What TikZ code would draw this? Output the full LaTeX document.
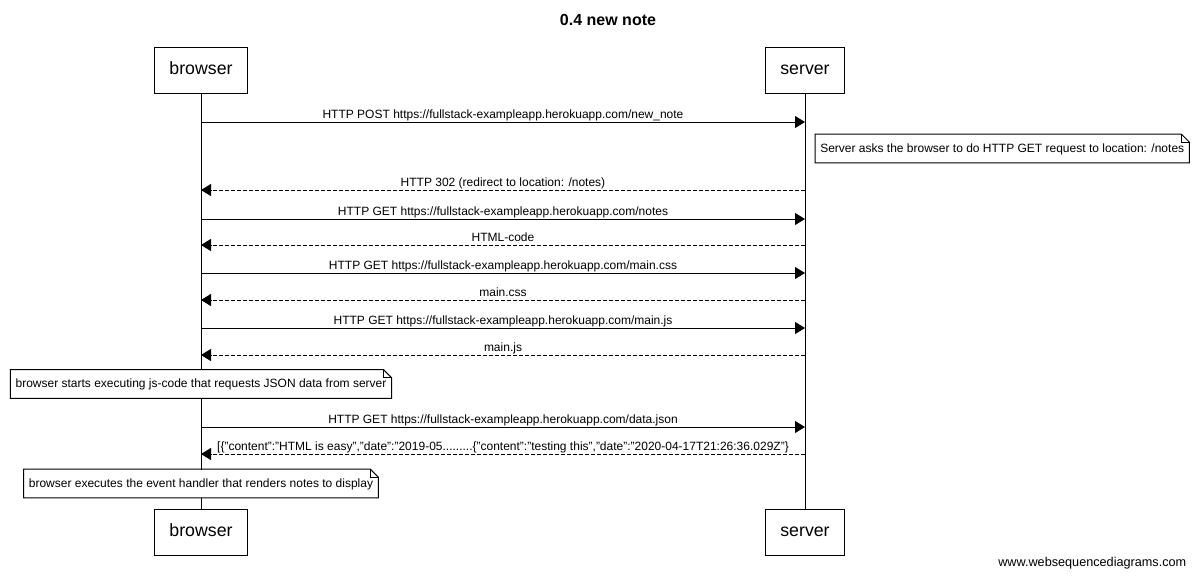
\documentclass[tikz,border=0pt]{standalone}
\usepackage{fontspec}
\setmainfont{Liberation Sans}
\usetikzlibrary{arrows.meta}
\tikzstyle{actor}=[draw, line width=0.75pt, fill=white, minimum height=34.5pt, inner xsep=11.25pt, text height=9.5pt, text depth=2.5pt, font=\fontsize{13.3}{16}\selectfont]
\tikzstyle{msg}=[line width=0.75pt, -{Triangle[length=7.5pt,width=9pt]}]
\tikzstyle{reply}=[msg, dash pattern=on 3pt off 1.5pt]
\tikzstyle{msgtext}=[font=\fontsize{9}{11}\selectfont, anchor=base, inner sep=0pt, yshift=2.5pt]
\tikzstyle{note}=[fill=white, minimum height=21pt, inner xsep=3.75pt, text depth=1pt, font=\fontsize{9}{11}\selectfont]
\newcommand{\dogear}[1]{%
  \draw[line width=0.75pt] (#1.north west) -- ([xshift=-6pt]#1.north east) -- ([yshift=-6pt]#1.north east) -- (#1.south east) -- (#1.south west) -- cycle;
  \draw[line width=0.5pt] ([xshift=-6pt]#1.north east) |- ([yshift=-6pt]#1.north east);}
\begin{document}
\begin{tikzpicture}[x=0.75pt, y=-0.75pt]
  \useasboundingbox (0,0) rectangle (1200,576);
  \node[font=\bfseries\fontsize{12}{14}\selectfont] (title) at (608,20) {0.4 new note};
  % participants
  \node[actor] (btop) at (201,70) {browser};
  \node[actor] (stop) at (805,70) {server};
  \node[actor] (bbot) at (201,532) {browser};
  \node[actor] (sbot) at (805,532) {server};
  \draw[line width=0.75pt] (btop) -- (bbot);
  \draw[line width=0.75pt] (stop) -- (sbot);
  % requests
  \foreach \y/\txt in {122/{HTTP POST https://fullstack-exampleapp.herokuapp.com/new\_note},
                       219/{HTTP GET https://fullstack-exampleapp.herokuapp.com/notes},
                       273/{HTTP GET https://fullstack-exampleapp.herokuapp.com/main.css},
                       328/{HTTP GET https://fullstack-exampleapp.herokuapp.com/main.js},
                       427/{HTTP GET https://fullstack-exampleapp.herokuapp.com/data.json}} {
    \coordinate (b\y) at (btop |- 0,\y);
    \coordinate (s\y) at (stop |- 0,\y);
    \draw[msg] (b\y) -- node[msgtext] (m\y) {\txt} (s\y);
  }
  % replies
  \foreach \y/\txt in {190/{HTTP 302 (redirect to location: /notes)},
                       245/{HTML-code},
                       300/{main.css},
                       355/{main.js},
                       454/{[\{"content":"HTML is easy","date":"2019-05.........\{"content":"testing this","date":"2020-04-17T21:26:36.029Z"\}}} {
    \coordinate (s\y) at (stop |- 0,\y);
    \coordinate (b\y) at (btop |- 0,\y);
    \draw[reply] (s\y) -- node[msgtext] (m\y) {\txt} (b\y);
  }
  % notes
  \node[note, anchor=west] (n1) at (815,148.5) {Server asks the browser to do HTTP GET request to location: /notes\hspace{3pt}};
  \dogear{n1}
  \node[note] (n2) at (201,384) {browser starts executing js-code that requests JSON data from server};
  \dogear{n2}
  \node[note] (n3) at (201,483.5) {browser executes the event handler that renders notes to display};
  \dogear{n3}
  \node[anchor=east, font=\fontsize{9.5}{11}\selectfont] (wsd) at (1191,563) {www.websequencediagrams.com};
\end{tikzpicture}
\end{document}
